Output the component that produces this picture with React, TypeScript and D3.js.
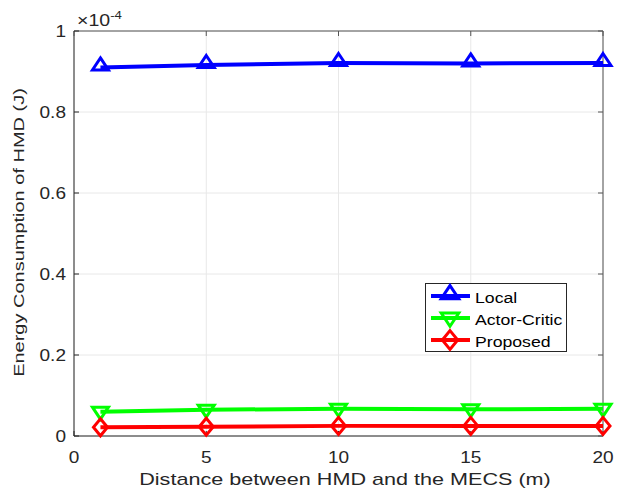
import React from "react";
import * as d3 from "d3";

const distances = [1, 5, 10, 15, 20];
const localVals = [0.910, 0.916, 0.921, 0.920, 0.921];
const actorCriticVals = [0.060, 0.065, 0.067, 0.066, 0.067];
const proposedVals = [0.0215, 0.023, 0.025, 0.025, 0.025];
const xTicks = [0, 5, 10, 15, 20];
const yTicks = [0, 0.2, 0.4, 0.6, 0.8, 1];
const yTickLabels = ["0", "0.2", "0.4", "0.6", "0.8", "1"];

const series = [
  { name: "Local", values: localVals, color: "#0000ff", marker: "up" },
  { name: "Actor-Critic", values: actorCriticVals, color: "#00ff00", marker: "down" },
  { name: "Proposed", values: proposedVals, color: "#ff0000", marker: "diamond" },
];

const W = 618, H = 489;
const L = 74, R = 603, T = 31, B = 436;
const FONT = "'Liberation Sans', Arial, sans-serif";
const INK = "#262626";

function Marker({ type, x, y, color, k = 1 }: { type: string; x: number; y: number; color: string; k?: number }) {
  let d = "";
  if (type === "up") d = `M${x},${y - 9.5 * k}L${x + 8 * k},${y + 2.5 * k}L${x - 8 * k},${y + 2.5 * k}Z`;
  else if (type === "down") d = `M${x},${y + 7.5 * k}L${x + 8 * k},${y - 4.5 * k}L${x - 8 * k},${y - 4.5 * k}Z`;
  else d = `M${x},${y - 8.5 * k}L${x + 7 * k},${y}L${x},${y + 8.5 * k}L${x - 7 * k},${y}Z`;
  return <path d={d} fill="none" stroke={color} strokeWidth={3} strokeLinejoin="miter" />;
}

function Txt({ x, y, size, sx = 1, anchor = "start", fill = INK, rotate = 0, children }: any) {
  return (
    <text
      transform={`translate(${x},${y}) rotate(${rotate}) scale(${sx},1)`}
      fontFamily={FONT}
      fontSize={size}
      textAnchor={anchor}
      fill={fill}
    >
      {children}
    </text>
  );
}

export default function App() {
  const x = d3.scaleLinear().domain([0, 20]).range([L, R]);
  const y = d3.scaleLinear().domain([0, 1]).range([B, T]);
  const line = d3.line<number>().x((_, i) => x(distances[i])).y((v) => y(v));
  return (
    <svg width={W} height={H} style={{ position: "absolute", left: 0, top: 0, background: "#fff" }}>
      <rect x={0} y={0} width={W} height={H} fill="#fff" />
      {xTicks.map((t) => (
        <line key={"gx" + t} x1={x(t)} x2={x(t)} y1={T} y2={B} stroke="#e8e8e8" strokeWidth={1} />
      ))}
      {yTicks.map((t) => (
        <line key={"gy" + t} x1={L} x2={R} y1={y(t)} y2={y(t)} stroke="#e8e8e8" strokeWidth={1} />
      ))}
      <line x1={L} x2={R} y1={T} y2={T} stroke="#555" strokeWidth={1} />
      <line x1={R} x2={R} y1={T} y2={B} stroke="#555" strokeWidth={1} />
      <line x1={L} x2={L} y1={T} y2={B} stroke={INK} strokeWidth={1} />
      <line x1={L} x2={R} y1={B} y2={B} stroke={INK} strokeWidth={1} />
      {xTicks.map((t) => (
        <g key={"tx" + t}>
          <line x1={x(t)} x2={x(t)} y1={B} y2={B - 5} stroke={INK} />
          <line x1={x(t)} x2={x(t)} y1={T} y2={T + 5} stroke="#555" />
          <Txt x={x(t)} y={462.5} size={17} sx={1.12} anchor="middle">{t}</Txt>
        </g>
      ))}
      {yTicks.map((t, i) => (
        <g key={"ty" + t}>
          <line x1={L} x2={L + 5} y1={y(t)} y2={y(t)} stroke={INK} />
          <line x1={R} x2={R - 5} y1={y(t)} y2={y(t)} stroke="#555" />
          <Txt x={L - 8} y={y(t) + 6} size={17} sx={1.12} anchor="end">{yTickLabels[i]}</Txt>
        </g>
      ))}
      <Txt x={77} y={26} size={17} sx={1.15}>
        ×10<tspan dy={-7} fontSize={11.5}>-4</tspan>
      </Txt>
      <Txt x={345} y={485} size={16} sx={1.35} anchor="middle">
        Distance between HMD and the MECS (m)
      </Txt>
      <Txt x={23.5} y={232.5} size={15.5} sx={1.29} anchor="middle" rotate={-90}>
        Energy Consumption of HMD (J)
      </Txt>
      {series.map((s) => (
        <g key={s.name}>
          <path d={line(s.values) || ""} fill="none" stroke={s.color} strokeWidth={4} />
          {s.values.map((v, i) => (
            <Marker key={i} type={s.marker} x={x(distances[i])} y={y(v)} color={s.color} />
          ))}
        </g>
      ))}
      <rect x={425.5} y={283.5} width={141} height={68} fill="#fff" stroke={INK} strokeWidth={1} />
      {series.map((s, i) => {
        const ly = 296 + i * 22;
        return (
          <g key={"lg" + s.name}>
            <line x1={431} x2={470} y1={ly} y2={ly} stroke={s.color} strokeWidth={4} />
            <Marker type={s.marker} x={450} y={ly} color={s.color} k={1.1} />
            <Txt x={475} y={ly + 6.5} size={15.5} sx={1.14} fill="#000">{s.name}</Txt>
          </g>
        );
      })}
    </svg>
  );
}
